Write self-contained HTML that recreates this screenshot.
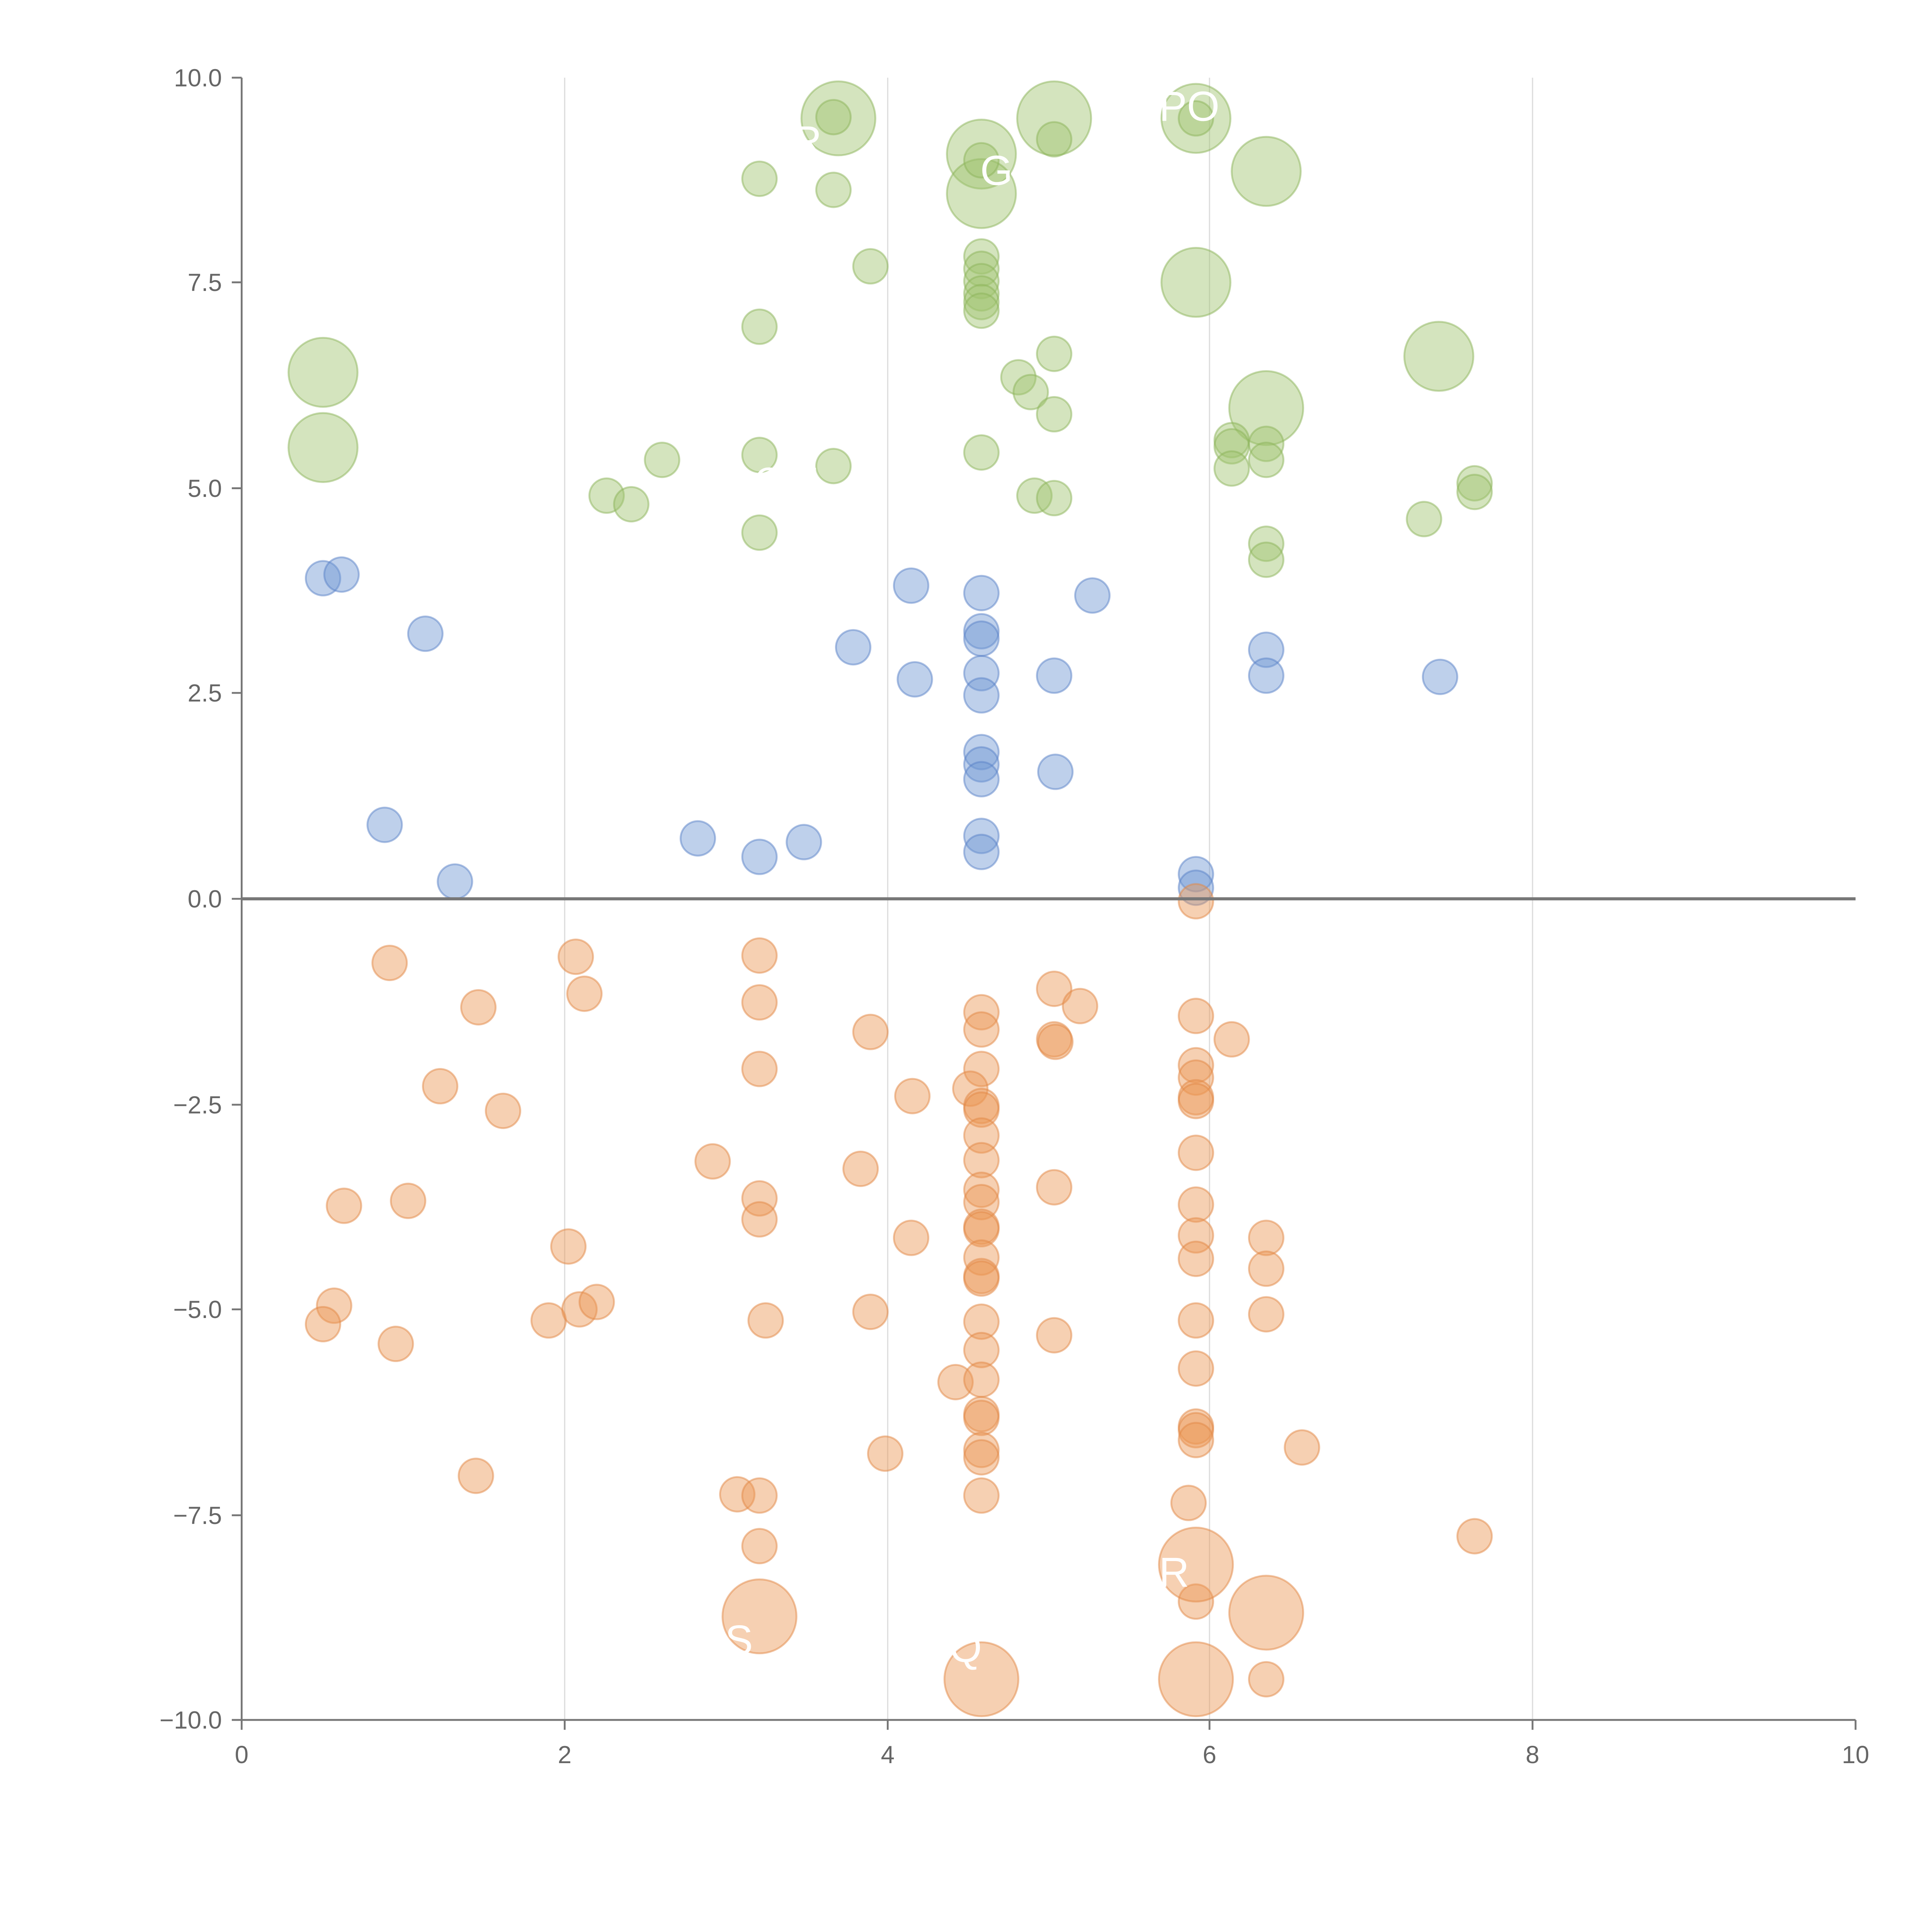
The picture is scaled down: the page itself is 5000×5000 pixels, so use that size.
<!DOCTYPE html>
<html><head><meta charset="utf-8"><style>html,body{margin:0;padding:0;background:#fff}svg{display:block}</style></head>
<body>
<svg width="5000" height="5000" viewBox="0 0 1567 1567" xmlns="http://www.w3.org/2000/svg" font-family="Liberation Sans, sans-serif">
<rect width="1567" height="1567" fill="#fff"/>
<g stroke="#ddd" stroke-width="1">
<line x1="458" y1="63" x2="458" y2="1395"/><line x1="720" y1="63" x2="720" y2="1395"/><line x1="981" y1="63" x2="981" y2="1395"/><line x1="1243" y1="63" x2="1243" y2="1395"/>
</g>
<g fill="rgba(160,195,110,0.45)" stroke="rgba(140,180,90,0.5)" stroke-width="1.5">
<circle cx="680" cy="96" r="30"/><circle cx="796" cy="125" r="28"/><circle cx="855" cy="96" r="30"/><circle cx="970" cy="96" r="28"/><circle cx="1027" cy="139" r="28"/><circle cx="796" cy="157" r="28"/><circle cx="970" cy="229" r="28"/><circle cx="262" cy="302" r="28"/><circle cx="262" cy="363" r="28"/><circle cx="1167" cy="289" r="28"/><circle cx="1027" cy="331" r="30"/>
<circle cx="676" cy="95" r="14"/><circle cx="616" cy="145" r="14"/><circle cx="676" cy="154" r="14"/><circle cx="796" cy="130" r="14"/><circle cx="855" cy="113" r="14"/><circle cx="970" cy="96" r="14"/><circle cx="706" cy="216" r="14"/><circle cx="796" cy="208" r="14"/><circle cx="796" cy="218" r="14"/><circle cx="796" cy="228" r="14"/><circle cx="796" cy="238" r="14"/><circle cx="796" cy="245" r="14"/><circle cx="796" cy="252" r="14"/><circle cx="616" cy="265" r="14"/><circle cx="855" cy="287" r="14"/><circle cx="826" cy="306" r="14"/><circle cx="836" cy="318" r="14"/><circle cx="855" cy="336" r="14"/><circle cx="999" cy="357" r="14"/><circle cx="999" cy="362" r="14"/><circle cx="1027" cy="360" r="14"/><circle cx="999" cy="380" r="14"/><circle cx="1027" cy="373" r="14"/><circle cx="616" cy="369" r="14"/><circle cx="676" cy="378" r="14"/><circle cx="537" cy="373" r="14"/><circle cx="796" cy="367" r="14"/><circle cx="492" cy="402" r="14"/><circle cx="512" cy="409" r="14"/><circle cx="839" cy="402" r="14"/><circle cx="855" cy="404" r="14"/><circle cx="1196" cy="392" r="14"/><circle cx="1196" cy="399" r="14"/><circle cx="1155" cy="421" r="14"/><circle cx="1027" cy="441" r="14"/><circle cx="1027" cy="454" r="14"/><circle cx="616" cy="432" r="14"/>
</g>
<g fill="rgba(110,150,210,0.45)" stroke="rgba(90,130,200,0.5)" stroke-width="1.5">
<circle cx="262" cy="469" r="14"/><circle cx="277" cy="466" r="14"/><circle cx="345" cy="514" r="14"/><circle cx="739" cy="475" r="14"/><circle cx="796" cy="481" r="14"/><circle cx="886" cy="483" r="14"/><circle cx="692" cy="525" r="14"/><circle cx="796" cy="512" r="14"/><circle cx="796" cy="518" r="14"/><circle cx="1027" cy="527" r="14"/><circle cx="742" cy="551" r="14"/><circle cx="796" cy="546" r="14"/><circle cx="855" cy="548" r="14"/><circle cx="1027" cy="548" r="14"/><circle cx="1168" cy="549" r="14"/><circle cx="796" cy="564" r="14"/><circle cx="796" cy="610" r="14"/><circle cx="796" cy="620" r="14"/><circle cx="796" cy="632" r="14"/><circle cx="856" cy="626" r="14"/><circle cx="312" cy="669" r="14"/><circle cx="566" cy="680" r="14"/><circle cx="616" cy="695" r="14"/><circle cx="652" cy="683" r="14"/><circle cx="796" cy="678" r="14"/><circle cx="796" cy="691" r="14"/><circle cx="369" cy="715" r="14"/><circle cx="970" cy="709" r="14"/><circle cx="970" cy="720" r="14"/>
</g>
<g fill="rgba(235,150,85,0.45)" stroke="rgba(225,135,70,0.5)" stroke-width="1.5">
<circle cx="970" cy="731" r="14"/><circle cx="316" cy="781" r="14"/><circle cx="467" cy="776" r="14"/><circle cx="616" cy="775" r="14"/><circle cx="474" cy="806" r="14"/><circle cx="388" cy="817" r="14"/><circle cx="616" cy="813" r="14"/><circle cx="706" cy="837" r="14"/><circle cx="796" cy="821" r="14"/><circle cx="796" cy="835" r="14"/><circle cx="855" cy="802" r="14"/><circle cx="876" cy="816" r="14"/><circle cx="855" cy="843" r="14"/><circle cx="856" cy="845" r="14"/><circle cx="970" cy="824" r="14"/><circle cx="999" cy="843" r="14"/><circle cx="616" cy="867" r="14"/><circle cx="796" cy="867" r="14"/><circle cx="970" cy="864" r="14"/><circle cx="970" cy="874" r="14"/><circle cx="357" cy="881" r="14"/><circle cx="408" cy="901" r="14"/><circle cx="740" cy="889" r="14"/><circle cx="787" cy="883" r="14"/><circle cx="796" cy="897" r="14"/><circle cx="796" cy="900" r="14"/><circle cx="970" cy="890" r="14"/><circle cx="970" cy="893" r="14"/><circle cx="796" cy="921" r="14"/><circle cx="578" cy="942" r="14"/><circle cx="698" cy="948" r="14"/><circle cx="796" cy="941" r="14"/><circle cx="970" cy="935" r="14"/><circle cx="855" cy="963" r="14"/><circle cx="279" cy="978" r="14"/><circle cx="331" cy="974" r="14"/><circle cx="796" cy="965" r="14"/><circle cx="796" cy="975" r="14"/><circle cx="796" cy="995" r="14"/><circle cx="796" cy="997" r="14"/><circle cx="970" cy="977" r="14"/><circle cx="616" cy="972" r="14"/><circle cx="616" cy="989" r="14"/><circle cx="739" cy="1004" r="14"/><circle cx="970" cy="1002" r="14"/><circle cx="1027" cy="1004" r="14"/><circle cx="461" cy="1011" r="14"/><circle cx="796" cy="1020" r="14"/><circle cx="796" cy="1035" r="14"/><circle cx="796" cy="1037" r="14"/><circle cx="970" cy="1021" r="14"/><circle cx="1027" cy="1029" r="14"/><circle cx="271" cy="1059" r="14"/><circle cx="262" cy="1074" r="14"/><circle cx="445" cy="1071" r="14"/><circle cx="470" cy="1062" r="14"/><circle cx="484" cy="1056" r="14"/><circle cx="621" cy="1071" r="14"/><circle cx="706" cy="1064" r="14"/><circle cx="796" cy="1072" r="14"/><circle cx="970" cy="1071" r="14"/><circle cx="1027" cy="1066" r="14"/><circle cx="321" cy="1090" r="14"/><circle cx="796" cy="1095" r="14"/><circle cx="855" cy="1083" r="14"/><circle cx="970" cy="1110" r="14"/><circle cx="775" cy="1121" r="14"/><circle cx="796" cy="1119" r="14"/><circle cx="796" cy="1147" r="14"/><circle cx="796" cy="1150" r="14"/><circle cx="970" cy="1157" r="14"/><circle cx="970" cy="1160" r="14"/><circle cx="970" cy="1168" r="14"/><circle cx="1056" cy="1174" r="14"/><circle cx="718" cy="1179" r="14"/><circle cx="796" cy="1176" r="14"/><circle cx="796" cy="1182" r="14"/><circle cx="386" cy="1197" r="14"/><circle cx="598" cy="1212" r="14"/><circle cx="616" cy="1213" r="14"/><circle cx="796" cy="1213" r="14"/><circle cx="964" cy="1219" r="14"/><circle cx="1196" cy="1246" r="14"/><circle cx="616" cy="1254" r="14"/><circle cx="970" cy="1299" r="14"/><circle cx="1027" cy="1362" r="14"/>
<circle cx="616" cy="1311" r="30"/><circle cx="970" cy="1269" r="30"/><circle cx="1027" cy="1308" r="30"/><circle cx="796" cy="1362" r="30"/><circle cx="970" cy="1362" r="30"/>
</g>
<g fill="#fff" font-size="34">
<text x="940" y="98">PO</text><text x="795" y="150">G</text><text x="642" y="126">R</text><text x="612" y="400" font-size="30">OIE</text><text x="940" y="1287">R</text><text x="588" y="1342">S</text><text x="770" y="1348">Q</text>
</g>
<line x1="196" y1="729" x2="1505" y2="729" stroke="#777" stroke-width="2.5"/>
<g stroke="#777" stroke-width="1.5" fill="none">
<line x1="196" y1="63" x2="196" y2="1395"/><line x1="196" y1="1395" x2="1505" y2="1395"/>
<line x1="188" y1="63" x2="196" y2="63"/><line x1="188" y1="229" x2="196" y2="229"/><line x1="188" y1="396" x2="196" y2="396"/><line x1="188" y1="562" x2="196" y2="562"/><line x1="188" y1="729" x2="196" y2="729"/><line x1="188" y1="896" x2="196" y2="896"/><line x1="188" y1="1062" x2="196" y2="1062"/><line x1="188" y1="1229" x2="196" y2="1229"/><line x1="188" y1="1395" x2="196" y2="1395"/>
<line x1="196" y1="1395" x2="196" y2="1403"/><line x1="458" y1="1395" x2="458" y2="1403"/><line x1="720" y1="1395" x2="720" y2="1403"/><line x1="981" y1="1395" x2="981" y2="1403"/><line x1="1243" y1="1395" x2="1243" y2="1403"/><line x1="1505" y1="1395" x2="1505" y2="1403"/>
</g>
<g fill="#666" font-size="20" text-anchor="end">
<text x="180" y="70">10.0</text><text x="180" y="236">7.5</text><text x="180" y="403">5.0</text><text x="180" y="569">2.5</text><text x="180" y="736">0.0</text><text x="180" y="903">−2.5</text><text x="180" y="1069">−5.0</text><text x="180" y="1236">−7.5</text><text x="180" y="1402">−10.0</text>
</g>
<g fill="#666" font-size="20" text-anchor="middle">
<text x="196" y="1430">0</text><text x="458" y="1430">2</text><text x="720" y="1430">4</text><text x="981" y="1430">6</text><text x="1243" y="1430">8</text><text x="1505" y="1430">10</text>
</g>
</svg>
</body></html>
